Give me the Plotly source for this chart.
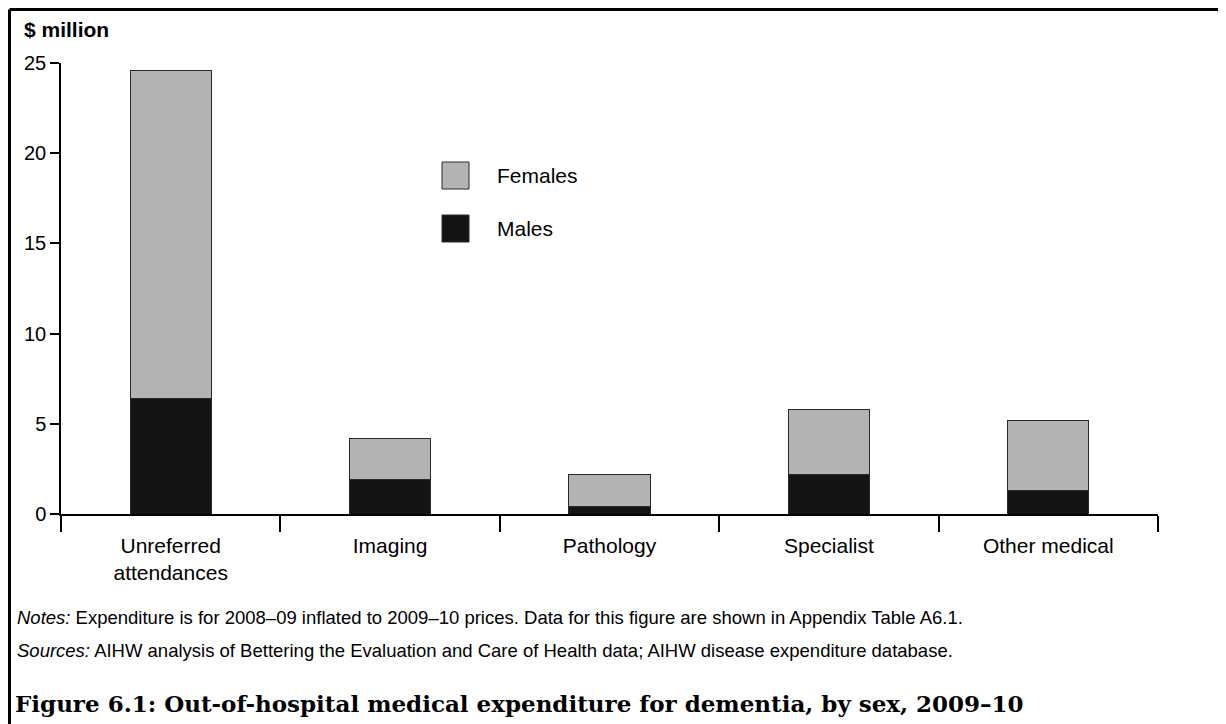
import plotly.graph_objects as go

# data ($ million)
CATEGORIES = ["Unreferred<br>attendances", "Imaging", "Pathology", "Specialist", "Other medical"]
MALES = [6.4, 1.9, 0.4, 2.2, 1.3]
FEMALES = [18.2, 2.3, 1.8, 3.6, 3.9]
Y_TICKS = [0, 5, 10, 15, 20, 25]

# graph variables (page has an 8px body margin, so the figure is shifted by OFFSET)
OFFSET = 8
WIDTH = 1226 - OFFSET
HEIGHT = 724 - OFFSET
MARGIN = {"l": 61 - OFFSET, "r": 68, "t": 63 - OFFSET, "b": 210}
FEMALE_COLOUR = "#b3b3b3"
MALE_COLOUR = "#141414"
OUTLINE = "#2a2a2a"
SANS = "Arial, Liberation Sans, sans-serif"
SERIF = "DejaVu Serif, serif"

PLOT_W = WIDTH - MARGIN["l"] - MARGIN["r"]
PLOT_H = HEIGHT - MARGIN["t"] - MARGIN["b"]


def px(x):
    # page pixel x -> paper x
    return (x - OFFSET - MARGIN["l"]) / PLOT_W


def py(y):
    # page pixel y -> paper y
    return (HEIGHT - MARGIN["b"] - (y - OFFSET)) / PLOT_H


fig = go.Figure()

fig.add_trace(go.Bar(x=CATEGORIES, y=MALES, name="Males",
                     marker=dict(color=MALE_COLOUR, line=dict(color=OUTLINE, width=1))))
fig.add_trace(go.Bar(x=CATEGORIES, y=FEMALES, name="Females",
                     marker=dict(color=FEMALE_COLOUR, line=dict(color=OUTLINE, width=1))))

fig.update_layout(barmode="stack",
                  bargap=0.63,
                  showlegend=False,
                  width=WIDTH,
                  height=HEIGHT,
                  margin=MARGIN,
                  plot_bgcolor="white",
                  paper_bgcolor="white",
                  font=dict(family=SANS, size=20, color="black"))

fig.update_xaxes(range=[-0.5, 4.5],
                 showline=True, linecolor="black", linewidth=1.5,
                 ticks="outside", tickson="boundaries", ticklen=16,
                 tickcolor="black", tickwidth=1.5,
                 tickfont=dict(size=21), ticklabelstandoff=12,
                 showgrid=False, zeroline=False)

fig.update_yaxes(range=[0, 25], tickvals=Y_TICKS,
                 showline=True, linecolor="black", linewidth=1.5,
                 ticks="outside", ticklen=9, tickcolor="black", tickwidth=1.5,
                 tickfont=dict(size=20),
                 showgrid=False, zeroline=False)

# hand-made legend with big squares
legend_items = [("Females", FEMALE_COLOUR, 162), ("Males", MALE_COLOUR, 215)]
for label, colour, top in legend_items:
    fig.add_shape(type="rect", xref="paper", yref="paper",
                  x0=px(442), x1=px(469), y0=py(top), y1=py(top + 27),
                  fillcolor=colour, line=dict(color=OUTLINE, width=1))
    fig.add_annotation(text=label, xref="paper", yref="paper",
                       x=px(495), y=py(top + 13.5), xanchor="left", yanchor="middle",
                       showarrow=False, font=dict(size=21))

# unit label
fig.add_annotation(text="<b>$ million</b>", xref="paper", yref="paper",
                   x=px(22), y=py(30), xanchor="left", yanchor="middle",
                   showarrow=False, font=dict(size=21))

# notes and sources
fig.add_annotation(text="<i>Notes:</i> Expenditure is for 2008–09 inflated to 2009–10 prices. "
                        "Data for this figure are shown in Appendix Table A6.1.",
                   xref="paper", yref="paper", x=px(15), y=py(617),
                   xanchor="left", yanchor="middle", showarrow=False, font=dict(size=18.5))
fig.add_annotation(text="<i>Sources:</i> AIHW analysis of Bettering the Evaluation and Care of Health data; "
                        "AIHW disease expenditure database.",
                   xref="paper", yref="paper", x=px(15), y=py(650),
                   xanchor="left", yanchor="middle", showarrow=False, font=dict(size=18.5))

# figure title
fig.add_annotation(text="<b>Figure 6.1: Out-of-hospital medical expenditure for dementia, by sex, 2009–10</b>",
                   xref="paper", yref="paper", x=px(13), y=py(703),
                   xanchor="left", yanchor="middle", showarrow=False,
                   font=dict(family=SERIF, size=23))

# frame round the chart, open at the bottom (page pixels; the left/top edge sits at the figure edge)
FRAME_LEFT, FRAME_TOP, FRAME_RIGHT, FRAME_BOTTOM = 9.5, 9.5, 1222, 730
frame = [(FRAME_LEFT, FRAME_TOP, FRAME_LEFT, FRAME_BOTTOM),
         (FRAME_LEFT, FRAME_TOP, FRAME_RIGHT, FRAME_TOP),
         (FRAME_RIGHT, FRAME_TOP, FRAME_RIGHT, FRAME_BOTTOM)]
for x0, y0, x1, y1 in frame:
    fig.add_shape(type="line", xref="paper", yref="paper",
                  x0=px(x0), y0=py(y0), x1=px(x1), y1=py(y1),
                  line=dict(color="black", width=3))

fig.write_html("out.html")
